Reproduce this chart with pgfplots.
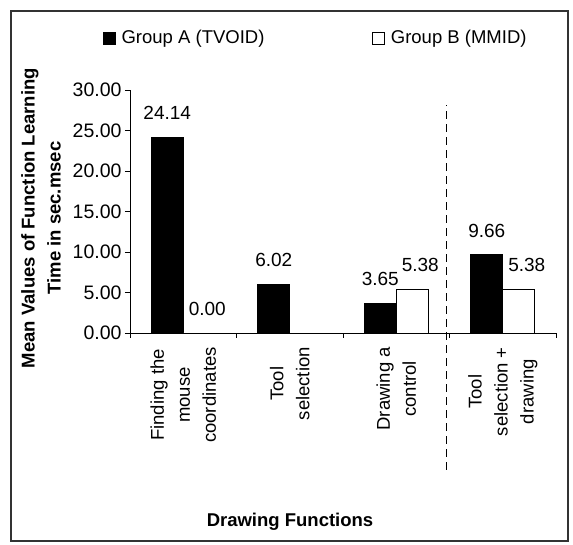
\documentclass[border=0pt]{standalone}
\usepackage{fontspec}
\setmainfont{Liberation Sans}
\usepackage{pgfplots}
\pgfplotsset{compat=1.18}
\begin{document}
\begin{tikzpicture}[x=1pt,y=1pt]
\useasboundingbox (0,0) rectangle (573,545);
\draw[line width=1.3pt, black!80] (11,4) rectangle (568,534);
\begin{axis}[
  at={(130pt,212pt)}, anchor=south west,
  scale only axis, width=426pt, height=243pt,
  xmin=-0.5, xmax=3.5, ymin=0, ymax=30,
  clip=false,
  axis x line*=bottom, axis y line*=left,
  axis line style={line width=0.9pt, black},
  /pgf/number format/assume math mode=true,
  ytick={0,5,...,30},
  yticklabel style={/pgf/number format/.cd, fixed, fixed zerofill, precision=2},
  tick align=outside, major tick length=5pt,
  tick style={black, line width=0.9pt},
  tick label style={font=\fontsize{19.5}{22}\selectfont},
  xtick={-0.5,0.5,1.5,2.5,3.5}, xticklabels={,,,,},
  extra x ticks={0,1,2,3},
  extra x tick labels={{Finding the\\mouse\\coordinates},{Tool\\selection},{Drawing a\\control},{Tool\\selection +\\drawing}},
  extra x tick style={major tick length=0pt, tick label style={rotate=90, anchor=east, align=center, inner xsep=14pt, font=\fontsize{18.5}{26}\selectfont}},
  ylabel={Mean Values of Function Learning\\Time in sec.msec},
  every axis y label/.style={at={(axis description cs:-0.209,0.473)}, anchor=center, rotate=90, align=center, font=\bfseries\fontsize{18.5}{26}\selectfont},
  xlabel={Drawing Functions},
  every axis x label/.style={at={(axis description cs:0.3756,-0.778)}, anchor=center, font=\bfseries\fontsize{18.5}{22}\selectfont},
  legend columns=2,
  legend style={at={(-0.0634,1.214)}, anchor=west, draw=none, fill=none, inner sep=0pt,
    font=\fontsize{18.5}{22}\selectfont,
    /tikz/every even column/.append style={column sep=106pt}},
  nodes near coords={\pgfmathprintnumber[fixed,fixed zerofill,precision=2]{\pgfplotspointmeta}},
  every node near coord/.append style={anchor=base, yshift=17.5pt, font=\fontsize{19}{22}\selectfont},
]
\addplot[ybar, bar width=32pt, bar shift=-16pt, fill=black, draw=black, line width=0.9pt,
  every node near coord/.append style={xshift=-16pt},
  legend image code/.code={\path[draw=none,fill=none] (0pt,0pt) -- (16pt,0pt);\draw[fill=black,draw=black,line width=0.8pt] (0pt,-6pt) rectangle (12pt,6pt);}]
  coordinates {(0,24.14) (1,6.02) (2,3.65) (3,9.66)};
\addplot[ybar, bar width=32pt, bar shift=16pt, fill=white, draw=black, line width=0.9pt,
  every node near coord/.append style={xshift=24pt},
  legend image code/.code={\path[draw=none,fill=none] (0pt,0pt) -- (16pt,0pt);\draw[fill=white,draw=black,line width=0.8pt] (0pt,-6pt) rectangle (12pt,6pt);}]
  coordinates {(0,0) (2,5.38) (3,5.38)};
\legend{Group A (TVOID),Group B (MMID)}
\addplot[black, line width=1.4pt, dash pattern=on 8pt off 5pt, forget plot, nodes near coords={}]
  coordinates {(2.47,-16.9) (2.47,28.15)};
\end{axis}
\end{tikzpicture}
\end{document}
